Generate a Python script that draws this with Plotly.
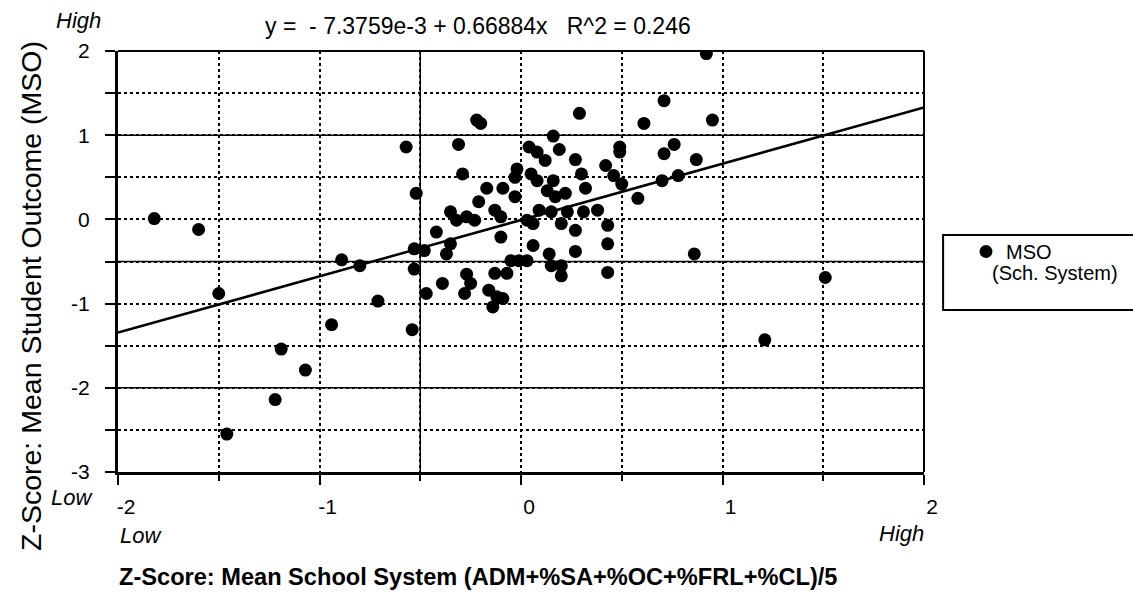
import plotly.graph_objects as go

# ---- data ----
mso_x = [
    -1.82, -1.60, -1.50, -0.89, -0.80, -0.71, -0.94, -1.19, -1.07, -1.22, -1.46,
    0.71, 0.29, -0.22, -0.20, 0.61, -0.57, -0.31, 0.16, 0.04, 0.08,
    0.12, 0.19, 0.27, 0.49, 0.49, 0.42, 0.76, 0.71, 0.78, 0.70,
    -0.29, -0.02, 0.05, 0.08, 0.16, 0.30, 0.46, 0.50, -0.03, -0.52,
    -0.17, -0.09, -0.03, 0.13, 0.17, 0.22, 0.32, 0.58, -0.21, -0.13,
    -0.35, -0.32, -0.27, -0.23, -0.10, 0.03, 0.06, 0.09, 0.15, 0.23,
    0.31, 0.38, 0.20, 0.27, 0.43, -0.42, -0.10, -0.35, -0.53, -0.48,
    -0.37, 0.06, 0.43, 0.27, 0.14, -0.05, -0.01, 0.03, -0.53, 0.15,
    0.20, 0.20, 0.43, -0.39, -0.27, -0.25, -0.28, -0.13, -0.07, -0.47,
    -0.16, -0.12, -0.09, -0.14, -0.54,
    0.92, 0.95, 0.87, 0.86, 1.51, 1.21,
]
mso_y = [
    0.01, -0.12, -0.88, -0.48, -0.55, -0.97, -1.25, -1.54, -1.79, -2.14, -2.55,
    1.41, 1.26, 1.18, 1.14, 1.14, 0.86, 0.89, 0.99, 0.86, 0.80,
    0.70, 0.83, 0.71, 0.86, 0.80, 0.64, 0.89, 0.78, 0.52, 0.46,
    0.54, 0.60, 0.54, 0.46, 0.46, 0.54, 0.52, 0.42, 0.50, 0.31,
    0.37, 0.37, 0.27, 0.34, 0.27, 0.31, 0.37, 0.25, 0.21, 0.11,
    0.09, -0.01, 0.03, -0.01, 0.03, -0.01, -0.05, 0.11, 0.09, 0.09,
    0.09, 0.11, -0.05, -0.13, -0.07, -0.15, -0.21, -0.29, -0.35, -0.37,
    -0.41, -0.31, -0.29, -0.38, -0.41, -0.49, -0.49, -0.49, -0.59, -0.55,
    -0.55, -0.67, -0.63, -0.76, -0.65, -0.76, -0.88, -0.64, -0.64, -0.88,
    -0.84, -0.92, -0.94, -1.04, -1.31,
    1.97, 1.18, 0.71, -0.41, -0.69, -1.43,
]

fit_intercept = -7.3759e-3
fit_slope = 0.66884
fit_r2 = 0.246
fit_x = [-2, 2]

x_ticks = [-2, -1, 0, 1, 2]
y_ticks = [2, 1, 0, -1, -2, -3]

FONT = "Liberation Sans, Arial, sans-serif"
NB = "\u00a0"

fit_y = [fit_intercept + fit_slope * v for v in fit_x]

fig = go.Figure()
fig.add_trace(go.Scatter(
    x=fit_x, y=fit_y, mode="lines", line=dict(color="black", width=2.5),
    showlegend=False, hoverinfo="skip",
))
fig.add_trace(go.Scatter(
    x=mso_x, y=mso_y, mode="markers", name="MSO",
    marker=dict(color="black", size=13, line=dict(width=0)),
))

fig.update_xaxes(
    range=[-2, 2], tickvals=x_ticks, ticktext=[str(v) for v in x_ticks],
    ticks="outside", ticklen=10, tickwidth=2, tickcolor="black",
    tickfont=dict(family=FONT, size=21, color="black"),
    ticklabelstandoff=4, ticklabelshift=8,
    showgrid=True, gridcolor="black", gridwidth=1.5, griddash="dot",
    minor=dict(dtick=0.5, tick0=0, showgrid=True, gridcolor="black", gridwidth=1.5,
               griddash="dot", ticks="outside", ticklen=6, tickcolor="black"),
    zeroline=False, showline=True, linecolor="black", linewidth=3, mirror=False,
)
fig.update_yaxes(
    range=[-3, 2], tickvals=y_ticks, ticktext=[str(v) for v in y_ticks],
    ticks="outside", ticklen=10, tickwidth=2, tickcolor="black",
    tickfont=dict(family=FONT, size=21, color="black"),
    ticklabelstandoff=11,
    showgrid=True, gridcolor="black", gridwidth=1.5, griddash="dot",
    minor=dict(dtick=0.5, tick0=0, showgrid=True, gridcolor="black", gridwidth=1.5,
               griddash="dot", ticks="outside", ticklen=10, tickcolor="black"),
    zeroline=False, showline=True, linecolor="black", linewidth=3, mirror=False,
)

shapes = []
# grid lines that appear solid in the scan
for yv in [1, -0.5, -2]:
    shapes.append(dict(type="line", xref="x", yref="y", x0=-2, x1=2, y0=yv, y1=yv,
                       line=dict(color="black", width=1.5), layer="below"))
shapes.append(dict(type="line", xref="x", yref="y", x0=-0.5, x1=-0.5, y0=-3, y1=2,
                   line=dict(color="black", width=1.5), layer="below"))
# frame top and right
shapes.append(dict(type="line", xref="paper", yref="paper", x0=0, x1=1, y0=1, y1=1,
                   line=dict(color="black", width=2)))
shapes.append(dict(type="line", xref="paper", yref="paper", x0=1, x1=1, y0=0, y1=1,
                   line=dict(color="black", width=2)))
# legend box
shapes.append(dict(type="rect", xref="paper", yref="paper",
                   x0=1.0237, x1=1.2615, y0=0.385, y1=0.563,
                   line=dict(color="black", width=2), fillcolor="white", layer="below"))

annotations = [
    dict(text=f"y ={NB}{NB}- 7.3759e-3 + 0.66884x{NB}{NB}{NB}R^2 = 0.246",
         xref="paper", yref="paper", x=(478 - 118) / 806, y=(472 - 26) / 421,
         xanchor="center", yanchor="middle", showarrow=False,
         font=dict(family=FONT, size=23, color="black")),
    dict(text="<i>High</i>", xref="paper", yref="paper",
         x=(103 - 118) / 806, y=(472 - 21) / 421, xanchor="right", yanchor="middle",
         showarrow=False, font=dict(family=FONT, size=22, color="black")),
    dict(text="<i>Low</i>", xref="paper", yref="paper",
         x=(95 - 118) / 806, y=(472 - 497) / 421, xanchor="right", yanchor="middle",
         showarrow=False, font=dict(family=FONT, size=22, color="black")),
    dict(text="<i>Low</i>", xref="paper", yref="paper",
         x=(118 - 118) / 806, y=(472 - 535) / 421, xanchor="left", yanchor="middle",
         showarrow=False, font=dict(family=FONT, size=22, color="black")),
    dict(text="<i>High</i>", xref="paper", yref="paper",
         x=(926 - 118) / 806, y=(472 - 533) / 421, xanchor="right", yanchor="middle",
         showarrow=False, font=dict(family=FONT, size=22, color="black")),
    dict(text="<b>Z-Score: Mean School System (ADM+%SA+%OC+%FRL+%CL)/5</b>",
         xref="paper", yref="paper", x=(117 - 118) / 806, y=(472 - 577) / 421,
         xanchor="left", yanchor="middle", showarrow=False,
         font=dict(family=FONT, size=23.6, color="black")),
    dict(text="Z-Score: Mean Student Outcome (MSO)", textangle=-90,
         xref="paper", yref="paper", x=(31 - 118) / 806, y=(472 - 296) / 421,
         xanchor="center", yanchor="middle", showarrow=False,
         font=dict(family=FONT, size=28.5, color="black")),
    dict(text="(Sch. System)", xref="paper", yref="paper",
         x=(1055 - 118) / 806, y=(472 - 273) / 421, xanchor="center", yanchor="middle",
         showarrow=False, font=dict(family=FONT, size=20, color="black")),
]

fig.update_layout(
    width=1133, height=596,
    margin=dict(l=118, r=209, t=51, b=124),
    paper_bgcolor="white", plot_bgcolor="white",
    showlegend=True,
    legend=dict(x=(966 - 118) / 806, y=(472 - 232) / 421, xanchor="left", yanchor="top",
                bgcolor="rgba(0,0,0,0)", borderwidth=0,
                font=dict(family=FONT, size=20, color="black"),
                itemwidth=30),
    shapes=shapes,
    annotations=annotations,
)

fig.write_html("out.html")
